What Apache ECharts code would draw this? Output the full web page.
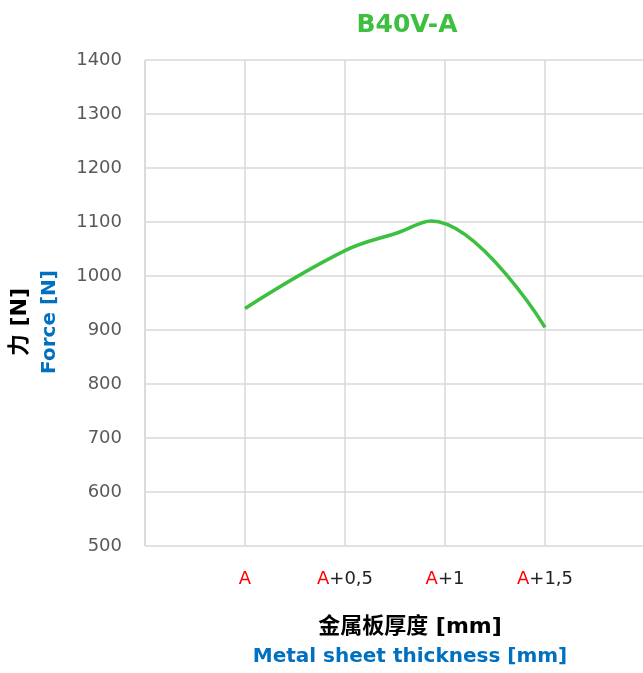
<!DOCTYPE html>
<html>
<head>
<meta charset="utf-8">
<script src="https://cdn.jsdelivr.net/npm/echarts@6/dist/echarts.min.js"></script>
<style>
  html, body { margin: 0; padding: 0; background: #fff; }
  #chart { width: 643px; height: 673px; }
</style>
</head>
<body>
<div id="chart"></div>
<script>
// 厚度偏移 (mm) 与力 (N)
var thickness = [0, 0.5, 0.77, 0.93, 1.5];
var force = [940, 1047, 1081, 1102, 905];
var tickLabels = { '0': 'A', '0.5': 'A+0,5', '1': 'A+1', '1.5': 'A+1,5' };

var chart = echarts.init(document.getElementById('chart'));

var pts = [];
for (var i = 0; i < thickness.length; i++) {
    pts.push([thickness[i], force[i]]);
}

var option = {
    //标题
    title: {
        text: 'B40V-A',
        left: 402,
        textAlign: 'center',
        top: 8,
        textStyle: { color: '#3dbf3f', fontSize: 25, fontWeight: 'bold', fontFamily: 'DejaVu Sans' }
    },
    grid: { left: 145, width: 500, top: 60, height: 486, outerBoundsMode: 'none' },
    xAxis: {
        type: 'value',
        min: -0.5,
        max: 2,
        interval: 0.5,
        axisLine: { show: false },
        axisTick: { show: false },
        splitLine: { lineStyle: { color: '#d9d9d9', width: 1.5 } },
        axisLabel: {
            margin: 24,
            fontFamily: 'DejaVu Sans',
            fontSize: 18,
            color: '#222',
            formatter: function (v) {
                var s = tickLabels[String(v)];
                if (!s) return '';
                return '{r|A}' + s.slice(1);
            },
            rich: { r: { color: '#ff0000', fontSize: 18, fontFamily: 'DejaVu Sans' } }
        }
    },
    yAxis: {
        type: 'value',
        min: 500,
        max: 1400,
        interval: 100,
        axisLine: { show: false },
        axisTick: { show: false },
        splitLine: { lineStyle: { color: '#d9d9d9', width: 1.5 } },
        axisLabel: {
            margin: 23, fontFamily: 'DejaVu Sans', fontSize: 18, color: '#595959',
            formatter: function (v) { return String(v); }
        }
    },
    graphic: [
        {
            type: 'line',
            shape: { x1: 145, y1: 60, x2: 145, y2: 546 },
            style: { stroke: '#d9d9d9', lineWidth: 1.5 }
        },
        {
            type: 'text', x: 20, y: 322, rotation: Math.PI / 2,
            style: { text: '力 [N]', fill: '#000', font: 'bold 22px "DejaVu Sans", "Noto Sans CJK SC"', align: 'center', verticalAlign: 'middle' }
        },
        {
            type: 'text', x: 50, y: 322, rotation: Math.PI / 2,
            style: { text: 'Force [N]', fill: '#0070c0', font: 'bold 20px "DejaVu Sans"', align: 'center', verticalAlign: 'middle' }
        },
        {
            type: 'text', x: 410, y: 627,
            style: { text: '金属板厚度 [mm]', fill: '#000', font: 'bold 22px "DejaVu Sans", "Noto Sans CJK SC"', align: 'center', verticalAlign: 'middle' }
        },
        {
            type: 'text', x: 410, y: 657,
            style: { text: 'Metal sheet thickness [mm]', fill: '#0070c0', font: 'bold 20px "DejaVu Sans"', align: 'center', verticalAlign: 'middle' }
        }
    ],
    series: [{
        type: 'line',
        data: pts,
        smooth: 0.4,
        showSymbol: false,
        lineStyle: { color: '#3dbf3f', width: 3.5 }
    }]
};

chart.setOption(option);
</script>
</body>
</html>
